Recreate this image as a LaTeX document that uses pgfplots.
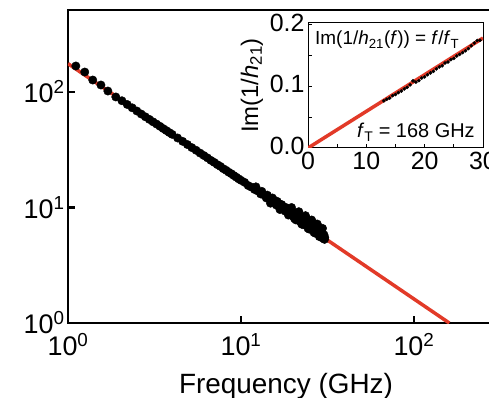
\documentclass[border=0pt]{standalone}
\usepackage{fontspec}
\setmainfont{Liberation Sans}
\usepackage{pgfplots}
\pgfplotsset{compat=1.18}
\definecolor{fitred}{RGB}{226,58,40}
\begin{document}
\begin{tikzpicture}
\useasboundingbox (-68bp,-75bp) rectangle (421bp,323bp);
\clip (-68bp,-75bp) rectangle (421bp,323bp);
\begin{axis}[
  scale only axis, width=430bp, height=313bp,
  xmode=log, ymode=log,
  xmin=1, xmax=306, ymin=1, ymax=513,
  xtick={1,10,100}, xticklabels={10\textsuperscript{0},10\textsuperscript{1},10\textsuperscript{2}},
  ytick={1,10,100}, yticklabels={10\textsuperscript{0},10\textsuperscript{1},10\textsuperscript{2}},
  xminorticks=false, yminorticks=false,
  tick pos=left, tick align=inside,
  major tick length=7bp,
  axis line style={line width=2.5bp},
  major tick style={line width=2.5bp, black},
  tick label style={font=\fontsize{27}{30}\selectfont},
  xticklabel style={yshift=-7bp},
  xlabel={Frequency (GHz)},
  xlabel style={font=\fontsize{28}{31}\selectfont, at={(axis description cs:0.507,0)}, anchor=base, yshift=-70bp},
]
\addplot[fitred, line width=3.5bp] coordinates {(1,176) (160,1)};
\addplot[only marks, mark=*, mark size=4.2bp, black] coordinates {
(1.11,168) (1.25,149) (1.39,127) (1.55,115) (1.70,102) (1.89,90.6)
(2.05,84) (2.2,78) (2.35,73) (2.5,68.5) (2.65,64.5) (2.8,61) (2.95,58)
(3.1,55.2) (3.25,52.8) (3.4,50.5) (3.55,48.3) (3.7,46.4) (3.85,44.6) (4.0,43)
(4.3,40) (4.6,37.4) (4.9,35.1) (5.2,33) (5.5,31.3) (5.8,29.6) (6.1,28.2)
(6.4,26.9) (6.7,25.6) (7.0,24.6) (7.3,23.5) (7.6,22.7) (7.9,21.7) (8.2,21.0)
(8.5,20.2) (8.8,19.6) (9.1,18.9) (9.4,18.3) (9.7,17.7) (10.0,17.2)
(10.5,16.5) (11.0,15.5) (11.5,15.0) (12.0,14.3) (12.5,13.9) (13.0,13.1)
(13.5,12.9) (14.0,12.1) (14.5,12.0) (15.0,11.2) (15.5,11.6) (16.0,10.5)
(16.5,10.8) (17.0,9.9) (17.5,10.2) (18.0,9.3) (18.5,9.7) (19.0,8.8)
(19.5,9.3) (20.0,8.4) (20.5,8.9) (21.0,8.0) (21.5,8.5) (22.0,7.6)
(22.5,8.2) (23.0,7.3) (23.5,7.8) (24.0,7.0) (24.5,7.5) (25.0,6.7)
(25.5,7.1) (26.0,6.4) (26.5,6.8) (27.0,6.2) (27.5,6.5) (28.0,6.0)
(28.5,6.1) (29.0,5.8) (29.5,5.9) (30.0,5.6) (30.5,5.5)
(12.2,15.1) (13.2,13.8) (14.2,12.8) (15.2,12.1) (16.2,11.3) (17.2,10.6)
(18.2,10.0) (19.2,9.5) (20.2,9.1) (21.2,8.6) (22.2,8.3) (23.2,7.9)
(24.2,7.6) (25.2,7.2) (26.2,6.9) (27.2,6.7) (28.2,6.4) (29.2,6.2)
(14.8,10.9) (16.8,9.6) (18.8,8.6) (20.8,7.8) (22.8,7.1) (24.8,6.5)
(26.8,6.0) (28.8,5.6) (30.2,5.8) (29.8,5.4)
(19.6,10.0) (21.6,9.2) (23.6,8.5) (25.6,7.8) (27.6,7.2) (29.6,6.6)
(20.4,8.0) (22.4,7.2) (24.4,6.6) (26.4,6.1) (28.4,5.6) (30.4,5.3)
(25.8,7.5) (27.8,6.9) (23.8,8.1)
};
\end{axis}
\begin{axis}[
  at={(240bp,175bp)}, anchor=south west,
  scale only axis, width=175bp, height=125bp,
  xmin=0, xmax=30, ymin=0, ymax=0.203,
  xtick={0,10,20,30}, ytick={0,0.1,0.2},
  minor xtick={5,15,25}, minor ytick={0.05,0.15},
  tick pos=left, tick align=inside,
  major tick length=3.5bp, minor tick length=3.5bp,
  axis line style={line width=1bp},
  every tick/.style={line width=1bp, black},
  /pgf/number format/assume math mode=true,
  yticklabel style={/pgf/number format/fixed, /pgf/number format/precision=1, /pgf/number format/fixed zerofill, yshift=2bp},
  tick label style={font=\fontsize{25}{28}\selectfont},
  xticklabel style={yshift=-1bp},
  ylabel={Im(1/\textit{h}\textsubscript{21})},
  ylabel style={font=\fontsize{24}{27}\selectfont},
  axis background/.style={fill=white},
]
\addplot[only marks, mark=*, mark size=1.6bp, black] coordinates {
(13.0,0.0765) (13.5,0.0790) (14.0,0.0810) (14.5,0.0850) (15.0,0.0870)
(15.5,0.0900) (16.0,0.0925) (16.5,0.0960) (17.0,0.0985) (17.5,0.1025)
(18.0,0.1090) (18.5,0.1070) (19.0,0.1095) (19.5,0.1135) (20.0,0.1155)
(20.5,0.1190) (21.0,0.1220) (21.5,0.1245) (22.0,0.1285) (22.5,0.1315)
(23.0,0.1335) (23.5,0.1380) (24.0,0.1395) (24.5,0.1435) (25.0,0.1455)
(25.5,0.1495) (26.0,0.1520) (26.5,0.1550) (27.0,0.1580) (27.5,0.1615)
(28.0,0.1660) (28.5,0.1705) (29.0,0.1745) (29.5,0.1750)
};
\addplot[fitred, line width=3.5bp] coordinates {(0,0) (30,0.1786)};
\node[anchor=base west, inner sep=0, font=\fontsize{19}{22}\selectfont] at (axis cs:1.2,0.1675) {Im(1/\textit{h}\textsubscript{21}(\textit{f})) = \textit{f}/\textit{f}\textsubscript{T}};
\node[anchor=base east, inner sep=0, font=\fontsize{20}{23}\selectfont] at (axis cs:28.6,0.0163) {\textit{f}\textsubscript{T} = 168 GHz};
\end{axis}
\end{tikzpicture}
\end{document}
